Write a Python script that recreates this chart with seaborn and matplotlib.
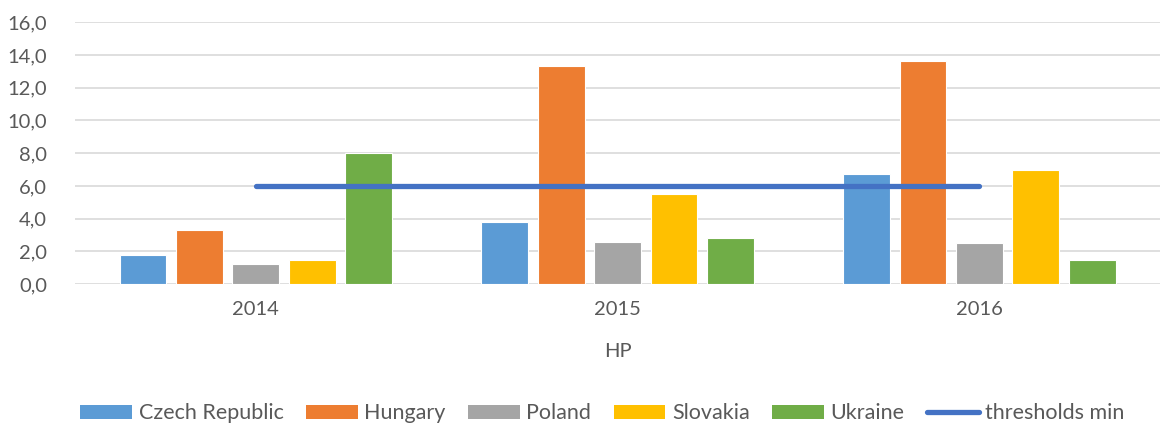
import matplotlib.pyplot as plt
from matplotlib.ticker import FuncFormatter
from matplotlib.patches import Patch
from matplotlib.lines import Line2D
import pandas as pd
import seaborn as sns

years = ['2014', '2015', '2016']
countries = ['Czech Republic', 'Hungary', 'Poland', 'Slovakia', 'Ukraine']
czech = [1.8, 3.8, 6.7]
hungary = [3.3, 13.3, 13.6]
poland = [1.2, 2.6, 2.5]
slovakia = [1.5, 5.5, 7.0]
ukraine = [8.0, 2.8, 1.5]
thresholds_min = [6.0, 6.0, 6.0]

colors = ['#5B9BD5', '#ED7D31', '#A5A5A5', '#FFC000', '#70AD47']
line_color = '#4472C4'
text_color = '#595959'

# long-form table for seaborn
rows = []
for name, vals in zip(countries, [czech, hungary, poland, slovakia, ukraine]):
    for yr, v in zip(years, vals):
        rows.append({'year': yr, 'country': name, 'value': v})
df = pd.DataFrame(rows)

sns.set_style('white')
plt.rcParams['font.family'] = ['Lato', 'DejaVu Sans']

fig = plt.figure(figsize=(11.72, 4.26), dpi=100)
ax = fig.add_axes([0.064, 0.333, 0.926, 0.615])

sns.barplot(data=df, x='year', y='value', hue='country', order=years,
            hue_order=countries, palette=colors, saturation=1, width=0.78, gap=0.17,
            edgecolor='white', linewidth=0.8, legend=False, ax=ax)

ax.plot(years, thresholds_min, color=line_color, linewidth=3.8,
        solid_capstyle='round', zorder=5)

ax.set_ylim(0, 16)
ax.set_xlim(-0.5, 2.5)
ax.set_yticks(range(0, 17, 2))
ax.yaxis.set_major_formatter(FuncFormatter(lambda v, p: f'{v:.1f}'.replace('.', ',')))
ax.grid(axis='y', color='#D9D9D9', linewidth=1.2)
ax.set_axisbelow(True)
for s in ax.spines.values():
    s.set_visible(False)
ax.tick_params(axis='both', length=0, labelsize=14.5, colors=text_color)
ax.tick_params(axis='y', pad=20)
ax.tick_params(axis='x', pad=12)
ax.set_ylabel('')
ax.set_xlabel('HP', fontsize=14.5, color=text_color, labelpad=18)

handles = [Patch(facecolor=c, edgecolor='none') for c in colors]
handles.append(Line2D([0], [0], color=line_color, linewidth=3.8, solid_capstyle='round'))
labels = countries + ['thresholds min']
fig.legend(handles, labels, loc='center', bbox_to_anchor=(0.514, 0.03), ncol=6,
           frameon=False, fontsize=15.5, labelcolor=text_color,
           handlelength=2.4, handleheight=0.63, handletextpad=0.3, columnspacing=1.05)

fig.savefig('out.png', dpi=100)
